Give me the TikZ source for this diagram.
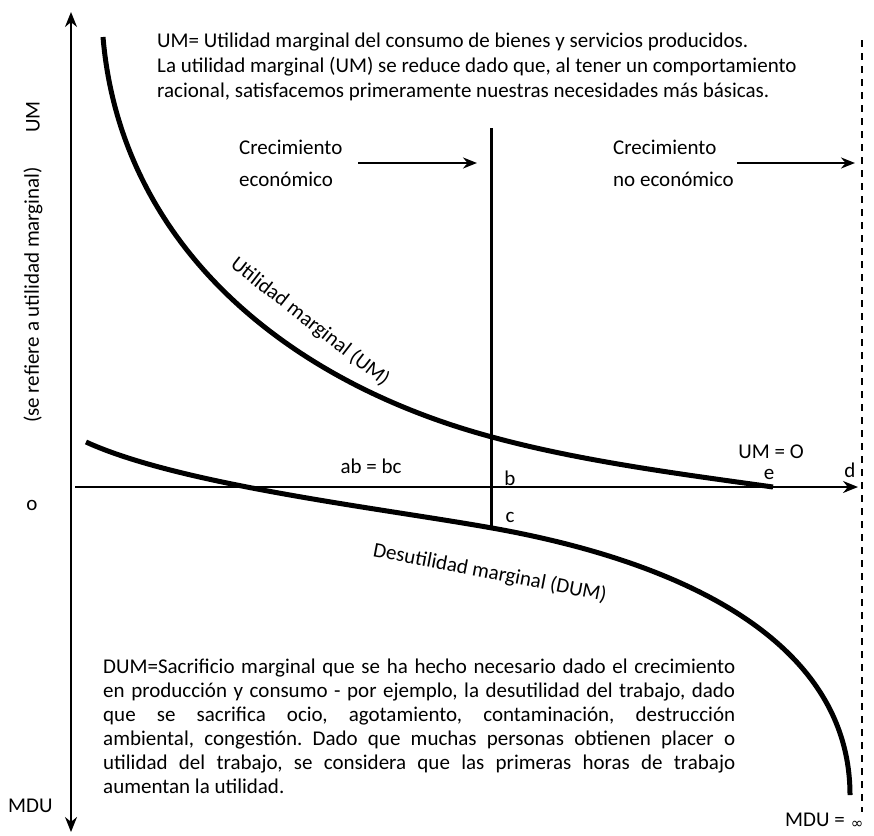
\documentclass[tikz,border=0pt]{standalone}
\usepackage{fontspec}
\setmainfont{Carlito}
\newfontfamily\symfont{DejaVu Sans}
\usetikzlibrary{arrows.meta}
\frenchspacing
\begin{document}
\begin{tikzpicture}[x=1pt,y=-1pt,
  lbl/.style={font=\fontsize{21}{25}\selectfont, inner sep=0pt},
  curve/.style={line width=5pt},
  arr/.style={line width=2pt,-{Stealth[length=15pt,width=12pt]}},
  smallarr/.style={line width=2pt,-{Stealth[length=14pt,width=11pt]}}]
\useasboundingbox (0,0) rectangle (874,835);

% axes
\coordinate (O) at (71,487);
\coordinate (ytop) at (71,12);
\coordinate (ybot) at (71,832);
\coordinate (xstart) at (75,487);
\coordinate (xend) at (858,487);
\draw[arr] (O) -- (ytop);
\draw[arr] (O) -- (ybot);
\draw[arr] (xstart) -- (xend);

% dashed limit
\coordinate (dtop) at (862,40);
\coordinate (dbot) at (862,812);
\draw[line width=2.5pt, dash pattern=on 7pt off 6pt] (dtop) -- (dbot);

% vertical line at b
\coordinate (btop) at (491,128);
\coordinate (cpt) at (491,528);
\draw[line width=3pt] (btop) -- (cpt);

% UM curve
\coordinate (umstart) at (103,37);
\coordinate (umb) at (492,437);
\coordinate (ept) at (773,487);
\draw[curve] (umstart) .. controls (120,240) and (280,380) .. (umb)
                       .. controls (580,461) and (680,474) .. (ept);
% DUM curve
\coordinate (dumstart) at (86,442);
\coordinate (dumc) at (492,528);
\coordinate (dumend) at (850,795);
\draw[curve] (dumstart) .. controls (180,485) and (380,508) .. (dumc)
                        .. controls (700,565) and (850,650) .. (dumend);

% growth arrows
\coordinate (a1s) at (358,163); \coordinate (a1e) at (477,163);
\coordinate (a2s) at (737,163); \coordinate (a2e) at (855,163);
\draw[smallarr] (a1s) -- (a1e);
\draw[smallarr] (a2s) -- (a2e);

% top paragraph
\node[lbl,anchor=base west] (t1) at (157,47) {UM= Utilidad marginal del consumo de bienes y servicios producidos.};
\node[lbl,anchor=base west] (t2) at (157,72) {La utilidad marginal (UM) se reduce dado que, al tener un comportamiento};
\node[lbl,anchor=base west] (t3) at (157,97) {racional, satisfacemos primeramente nuestras necesidades más básicas.};

% growth labels
\node[lbl,anchor=base west] (g1) at (239,154) {Crecimiento};
\node[lbl,anchor=base west] (g2) at (239,186) {económico};
\node[lbl,anchor=base west] (g3) at (613,154) {Crecimiento};
\node[lbl,anchor=base west] (g4) at (613,186) {no económico};

% left axis labels
\node[lbl,rotate=90] (lum) at (33,117) {UM};
\node[lbl,rotate=90] (lse) at (33,295) {(se refiere a utilidad marginal)};
\node[lbl] (lo) at (32,505) {o};
\node[lbl,anchor=base west] (lmdu) at (8,812) {MDU};

% curve labels
\node[lbl,rotate=-38] (lum2) at (310,322) {Utilidad marginal (UM)};
\node[lbl,rotate=-11] (ldum) at (490,573) {Desutilidad marginal (DUM)};

% point labels
\node[lbl] (lab) at (371,466) {ab = bc};
\node[lbl] (lb) at (510,478) {b};
\node[lbl] (lc) at (510,517) {c};
\node[lbl] (lum0) at (771,452) {UM = O};
\node[lbl] (le) at (769,474) {e};
\node[lbl] (ld) at (850,470) {d};

% DUM paragraph
\node[lbl,anchor=base west] (p1) at (103,673) {\makebox[632pt][s]{DUM=Sacrificio marginal que se ha hecho necesario dado el crecimiento}};
\node[lbl,anchor=base west] (p2) at (103,697) {\makebox[632pt][s]{en producción y consumo - por ejemplo, la desutilidad del trabajo, dado}};
\node[lbl,anchor=base west] (p3) at (103,721) {\makebox[632pt][s]{que se sacrifica ocio, agotamiento, contaminación, destrucción}};
\node[lbl,anchor=base west] (p4) at (103,745) {\makebox[632pt][s]{ambiental, congestión. Dado que muchas personas obtienen placer o}};
\node[lbl,anchor=base west] (p5) at (103,769) {\makebox[632pt][s]{utilidad del trabajo, se considera que las primeras horas de trabajo}};
\node[lbl,anchor=base west] (p6) at (103,793) {aumentan la utilidad.};

% MDU infinity
\node[lbl,anchor=base west] (lmdu2) at (785,826) {MDU =};
\node[lbl] (linf) at (857,825) {\symfont\fontsize{15}{15}\selectfont ∞};
\end{tikzpicture}
\end{document}
